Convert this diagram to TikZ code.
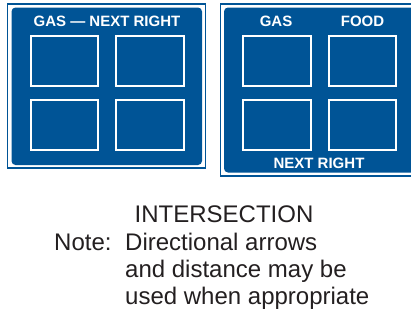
\documentclass[tikz,border=0pt]{standalone}
\usepackage{fontspec}
\setmainfont{Liberation Sans}
\definecolor{signblue}{RGB}{0,84,150}
\definecolor{inkgray}{RGB}{35,31,32}
\tikzset{
    signlabel/.style={text=white, font=\fontsize{15}{18}\selectfont\bfseries, inner sep=0pt, anchor=base},
    notetext/.style={text=inkgray, font=\fontsize{24}{27}\selectfont, inner sep=0pt, anchor=base west},
    symbolbox/.style={draw=white, line width=2pt},
}

\begin{document}
\begin{tikzpicture}[x=1pt, y=-1pt]
    \useasboundingbox (0, 0) rectangle (411, 322);
    \clip (0, 0) rectangle (411, 322);
    % \draw[help lines, step=20] (0, 0) grid (411, 322);

    % left sign
    \draw[signblue, line width=1.8pt] (7.5, 4) rectangle (205.5, 168);
    \fill[signblue, rounded corners=4pt] (11.5, 7.5) rectangle (202, 165);
    \foreach \x in {30.5, 116} {
        \foreach \y in {35.5, 99.5} {
            \draw[symbolbox] (\x, \y) rectangle ++(67.5, 50.5);
        }
    }
    \node[signlabel] (gasnext) at (107, 26) {GAS --- NEXT RIGHT};

    % right sign (cut at the edge)
    \draw[signblue, line width=1.8pt] (220.5, 4) rectangle (430, 176);
    \fill[signblue, rounded corners=4pt] (224, 7.5) rectangle (426, 172.5);
    \foreach \x in {243, 328.5} {
        \foreach \y in {35.5, 99.5} {
            \draw[symbolbox] (\x, \y) rectangle ++(67.5, 50.5);
        }
    }
    \node[signlabel] (gas) at (276, 26) {GAS};
    \node[signlabel] (food) at (362.5, 26) {FOOD};
    \node[signlabel] (nextright) at (319, 168) {NEXT RIGHT};

    % caption
    \node[notetext, anchor=base] (title) at (224, 222) {INTERSECTION};
    \node[notetext] (note) at (54, 250) {Note:};
    \node[notetext] (line1) at (125, 250) {Directional arrows};
    \node[notetext] (line2) at (125, 277) {and distance may be};
    \node[notetext] (line3) at (125, 304) {used when appropriate};

\end{tikzpicture}
\end{document}
